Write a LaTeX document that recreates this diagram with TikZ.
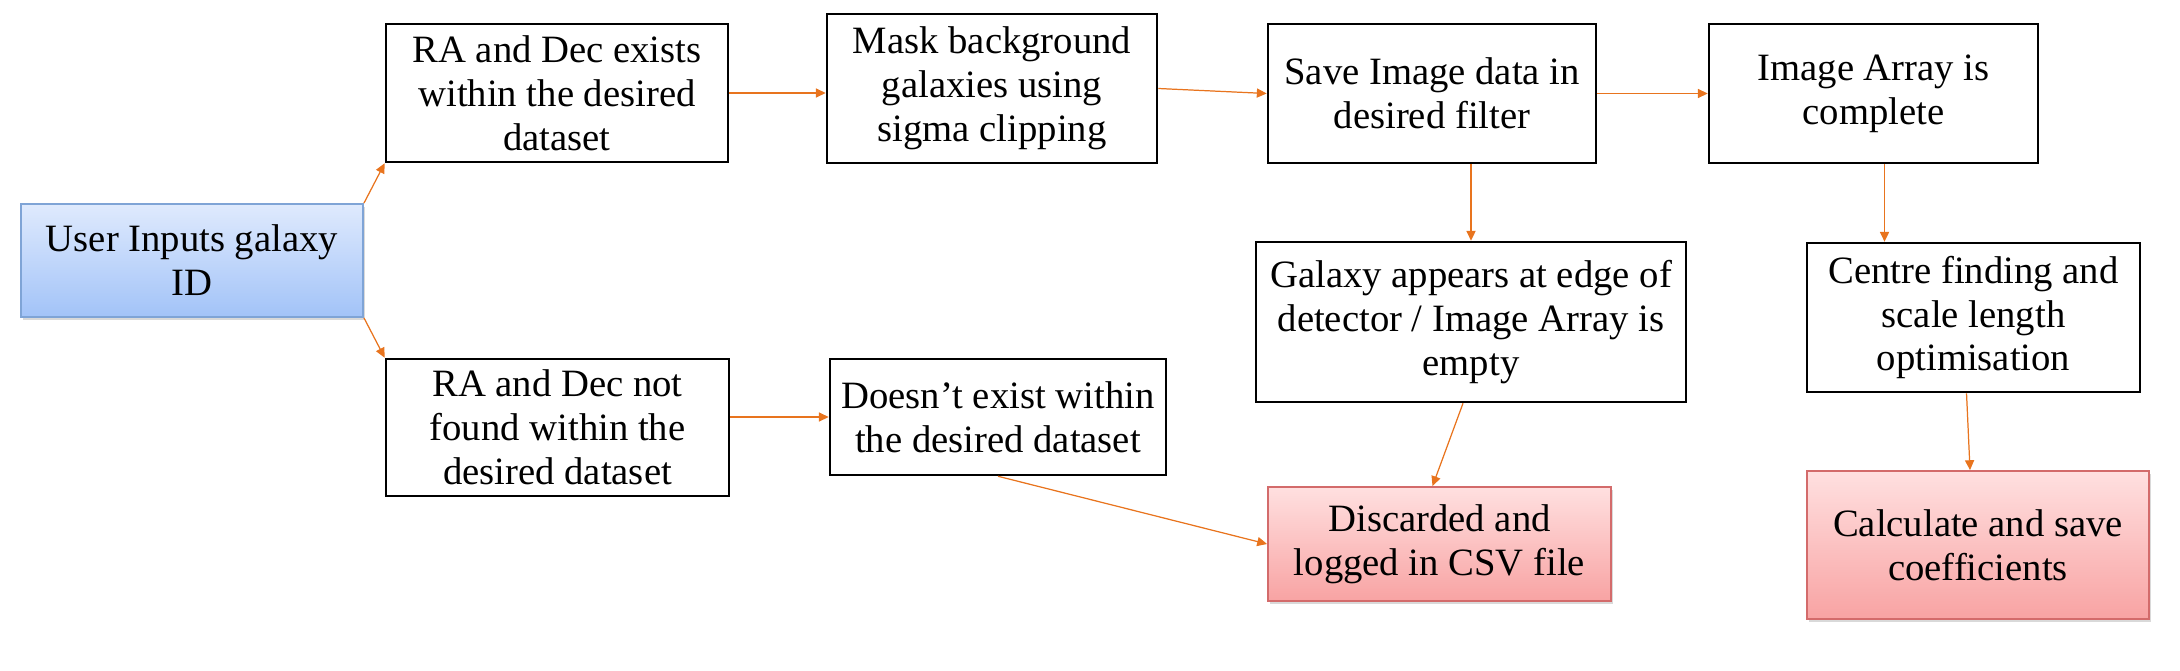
\documentclass[tikz,border=0pt]{standalone}
\usepackage{fontspec}
\setmainfont{Liberation Serif}
\usetikzlibrary{positioning,arrows.meta,shadows}

\definecolor{flowline}{HTML}{E8741E}
\definecolor{bluetop}{HTML}{DFEAFD}
\definecolor{bluebot}{HTML}{A2C3F8}
\definecolor{blueedge}{HTML}{7FA4D6}
\definecolor{redtop}{HTML}{FFE0E0}
\definecolor{redbot}{HTML}{F8A3A3}
\definecolor{rededge}{HTML}{D36B6B}

\begin{document}
\begin{tikzpicture}[x=0.01cm,y=-0.01cm,>={Triangle[length=2.8pt,width=2.6pt]},
  stepbox/.style={draw,line width=0.7pt,align=center,inner sep=1pt,
    font=\fontsize{11}{12.5}\selectfont},
  startbox/.style={stepbox,draw=blueedge,line width=0.5pt,top color=bluetop,bottom color=bluebot,
    drop shadow={shadow xshift=0.6pt,shadow yshift=-0.8pt,opacity=0.3}},
  endbox/.style={stepbox,draw=rededge,line width=0.5pt,top color=redtop,bottom color=redbot,
    drop shadow={shadow xshift=0.6pt,shadow yshift=-0.8pt,opacity=0.3}},
  flow/.style={->,draw=flowline,fill=flowline,line width=0.35pt}]
  \useasboundingbox (0,0) rectangle (2180,670);
  % first column
  \node[startbox,minimum width=3.42cm,minimum height=1.13cm] (user) at (192,260.5) {User Inputs galaxy\\ID};
  % top row
  \node[stepbox,minimum width=3.42cm,minimum height=1.38cm] (found) at (557,93) {RA and Dec exists\\within the desired\\dataset};
  \node[stepbox,minimum width=3.30cm,minimum height=1.49cm] (mask) at (992,88.5) {Mask background\\galaxies using\\sigma clipping};
  \node[stepbox,minimum width=3.28cm,minimum height=1.39cm] (save) at (1432,93.5) {Save Image data in\\desired filter};
  \node[stepbox,minimum width=3.29cm,minimum height=1.39cm] (array) at (1873.5,93.5) {Image Array is\\complete};
  % second row
  \node[stepbox,minimum width=4.30cm,minimum height=1.60cm] (edge) at (1471,322) {Galaxy appears at edge of\\detector / Image Array is\\empty};
  \node[stepbox,minimum width=3.33cm,minimum height=1.49cm] (centre) at (1973.5,317.5) {Centre finding and\\scale length\\optimisation};
  \node[stepbox,minimum width=3.43cm,minimum height=1.37cm] (notfound) at (557.5,427.5) {RA and Dec not\\found within the\\desired dataset};
  \node[stepbox,minimum width=3.36cm,minimum height=1.16cm] (noexist) at (998,417) {Doesn’t exist within\\the desired dataset};
  % outcomes
  \node[endbox,minimum width=3.43cm,minimum height=1.14cm] (discard) at (1439.5,544) {Discarded and\\logged in CSV file};
  \node[endbox,minimum width=3.42cm,minimum height=1.48cm] (coeff) at (1978,545) {Calculate and save\\coefficients};

  \draw[flow] (user.north east) -- (found.south west);
  \draw[flow] (user.south east) -- (notfound.north west);
  \draw[flow] (found.east) -- (found.east -| mask.west);
  \draw[flow] (mask.east) -- (save.west);
  \draw[flow] (save.east) -- (array.west);
  \draw[flow] (save.south -| edge.north) -- (edge.north);
  \draw[flow] ([xshift=0.11cm]array.south) -- ([xshift=0.11cm]array.south |- centre.north);
  \draw[flow] (notfound.east |- noexist.west) -- (noexist.west);
  \draw[flow] ([xshift=-0.08cm]edge.south) -- ([xshift=-0.07cm]discard.north);
  \draw[flow] (noexist.south) -- (discard.west);
  \draw[flow] ([xshift=-0.07cm]centre.south) -- ([xshift=-0.08cm]coeff.north);
\end{tikzpicture}
\end{document}
